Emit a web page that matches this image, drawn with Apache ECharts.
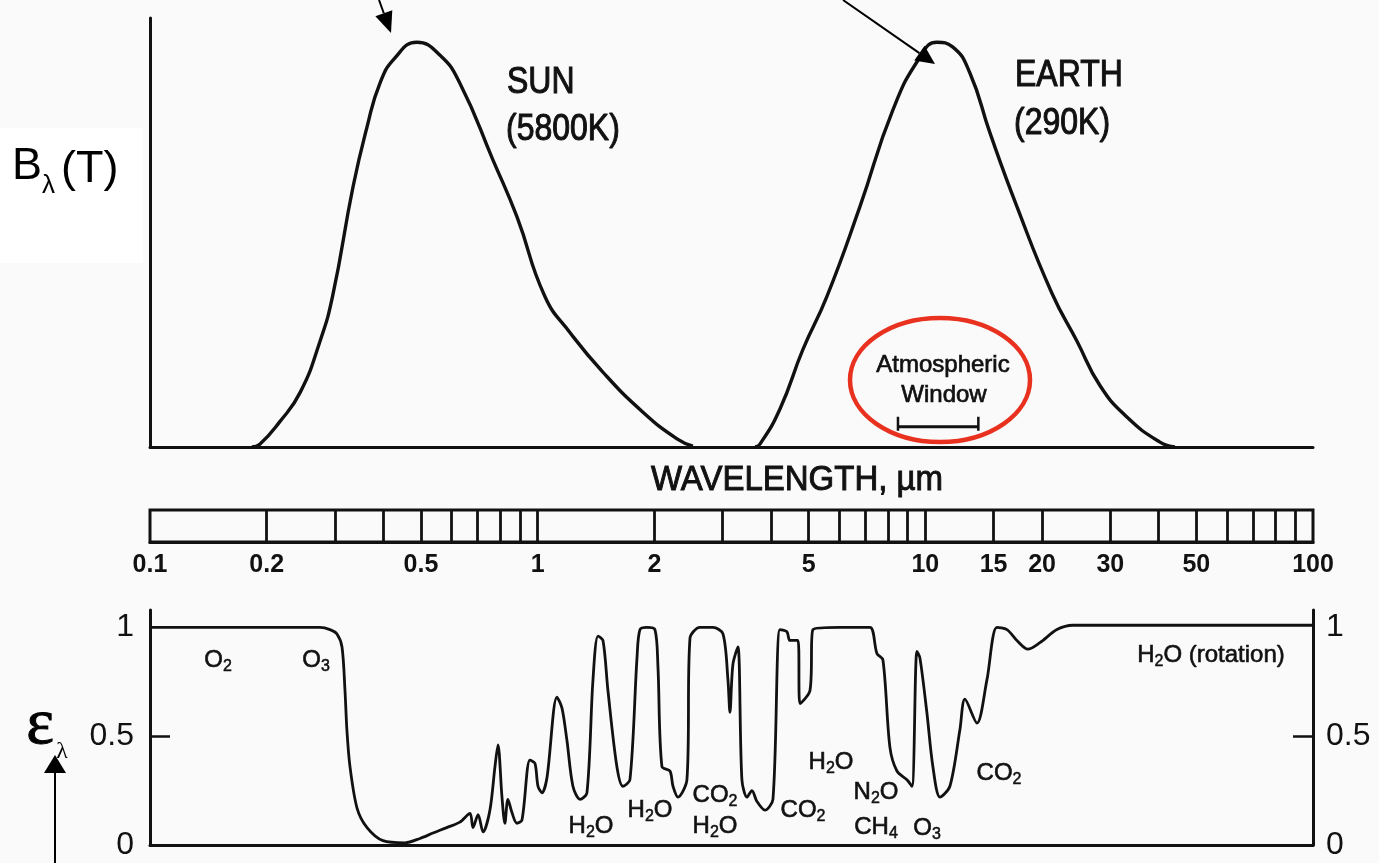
<!DOCTYPE html>
<html>
<head>
<meta charset="utf-8">
<title>Blackbody curves and atmospheric absorption</title>
<script src="https://cdn.jsdelivr.net/npm/echarts@6/dist/echarts.min.js"></script>
<style>
  html, body { margin: 0; padding: 0; background: #fafafa; }
  #chart { width: 1379px; height: 863px; }
</style>
</head>
<body>
<div id="chart"></div>
<script>
// wavelength in micrometres, radiance normalised to the peak
const sunWavelength = [0.183, 0.192, 0.216, 0.244, 0.274, 0.296, 0.334, 0.363, 0.392, 0.428, 0.488,
  0.56, 0.63, 0.767, 0.884, 1.044, 1.211, 1.473, 1.869, 2.288, 2.515];
const sunRadiance = [0, 0.007, 0.062, 0.135, 0.259, 0.374, 0.643, 0.791, 0.899, 0.961, 1.0,
  0.968, 0.899, 0.709, 0.569, 0.372, 0.283, 0.185, 0.086, 0.02, 0.002];

const earthWavelength = [3.636, 3.745, 4.217, 4.834, 5.574, 6.781, 8.249, 9.685, 10.71, 11.78,
  13.03, 14.68, 17.23, 21.21, 24.6, 28.21, 33.11, 40.29, 44.04];
const earthRadiance = [0, 0.007, 0.094, 0.241, 0.372, 0.594, 0.833, 0.963, 1.0, 0.988,
  0.924, 0.776, 0.594, 0.38, 0.262, 0.152, 0.074, 0.012, 0];

// atmospheric absorptivity
const absWavelength = [0.101, 0.2745, 0.2912, 0.3036, 0.3128, 0.3184, 0.322, 0.328, 0.342, 0.363,
  0.399, 0.455, 0.497, 0.537, 0.583, 0.63, 0.669, 0.681, 0.702, 0.723,
  0.753, 0.776, 0.79, 0.809, 0.823, 0.838, 0.858, 0.884, 0.911, 0.955,
  0.984, 1.002, 1.026, 1.057, 1.121, 1.155, 1.19, 1.233, 1.286, 1.34,
  1.389, 1.431, 1.474, 1.518, 1.601, 1.66, 1.73, 1.804, 1.836, 1.914,
  2.007, 2.043, 2.092, 2.194, 2.234, 2.301, 2.427, 2.471, 2.622, 2.833,
  3.006, 3.096, 3.133, 3.189, 3.285, 3.364, 3.466, 3.57, 3.678, 3.857,
  4.045, 4.217, 4.395, 4.475, 4.692, 4.749, 5.04, 5.131, 6.022, 6.391,
  7.196, 7.502, 7.774, 8.102, 8.448, 8.965, 9.236, 9.513, 9.683, 10.09,
  10.46, 10.91, 11.57, 12.28, 12.65, 13.59, 14.42, 15.3, 16.24, 17.23,
  18.39, 19.75, 21.85, 24.03, 100];
const absValue = [1.0, 1.0, 0.99, 0.97, 0.91, 0.71, 0.53, 0.36, 0.17, 0.08,
  0.02, 0.01, 0.03, 0.055, 0.08, 0.105, 0.145, 0.08, 0.14, 0.06,
  0.16, 0.36, 0.46, 0.22, 0.1, 0.21, 0.15, 0.1, 0.115, 0.39,
  0.375, 0.27, 0.24, 0.31, 0.68, 0.63, 0.48, 0.27, 0.21, 0.24,
  0.76, 0.96, 0.94, 0.71, 0.36, 0.27, 0.3, 0.86, 0.99, 1.0,
  0.99, 0.82, 0.36, 0.34, 0.27, 0.22, 0.3, 0.95, 1.0, 1.0,
  0.97, 0.76, 0.61, 0.83, 0.91, 0.3, 0.22, 0.25, 0.2, 0.16,
  0.21, 0.99, 0.98, 0.94, 0.94, 0.65, 0.71, 0.99, 1.0, 1.0,
  1.0, 0.88, 0.85, 0.45, 0.34, 0.3, 0.27, 0.89, 0.86, 0.61,
  0.36, 0.22, 0.27, 0.53, 0.67, 0.56, 0.76, 1.0, 0.99, 0.94,
  0.9, 0.93, 0.99, 1.01, 1.01];

// wavelength scale bar
const scaleTicks = [0.2, 0.3, 0.4, 0.5, 0.6, 0.7, 0.8, 0.9, 1, 2, 3, 4, 5, 6, 7, 8, 9,
  10, 15, 20, 30, 40, 50, 60, 70, 80, 90];
const scaleLabels = [0.1, 0.2, 0.5, 1, 2, 5, 10, 15, 20, 30, 50, 100];
const epsLabels = [0, 0.5, 1];
const windowRange = [8.5, 13.7];

const FONT = '"Liberation Sans", Arial, Helvetica, sans-serif';
const SERIF = '"Liberation Serif", "Times New Roman", serif';
const INK = '#111';
const lg = Math.log10;
const pairs = (xs, ys) => xs.map((x, i) => [lg(x), ys[i]]);

const chart = echarts.init(document.getElementById('chart'));

const bareX = (gridIndex) => ({
  gridIndex, type: 'value', min: -1, max: 2,
  axisLine: { onZero: false, lineStyle: { color: INK, width: 3 } },
  axisTick: { show: false }, axisLabel: { show: false }, splitLine: { show: false }
});

const epsAxis = (position, margin) => ({
  gridIndex: 2, type: 'value', min: 0, max: 1.08, position,
  axisLine: { show: true, onZero: false, lineStyle: { color: INK, width: 3 } },
  axisTick: { show: true, inside: true, length: 20, customValues: [0.5], lineStyle: { color: INK, width: 2.5 } },
  axisLabel: { customValues: epsLabels, margin, fontSize: 32, color: INK, fontFamily: FONT },
  splitLine: { show: false }
});

const curve = (data, width, smooth) => ({
  type: 'line', data, showSymbol: false, silent: true, smooth,
  lineStyle: { color: INK, width }
});

const option = {
  backgroundColor: '#fafafa',
  animation: false,
  grid: [
    { left: 150, right: 66, top: 18, bottom: 416 },
    { left: 150, right: 66, top: 510, height: 32, show: true, borderColor: INK, borderWidth: 3 },
    { left: 150, right: 66, top: 610, bottom: 18 }
  ],
  xAxis: [
    bareX(0),
    {
      gridIndex: 1, type: 'value', min: -1, max: 2,
      axisLine: { onZero: false, lineStyle: { color: INK, width: 3 } },
      axisTick: { inside: true, length: 32, customValues: scaleTicks.map(lg), lineStyle: { color: INK, width: 2.8 } },
      axisLabel: {
        customValues: scaleLabels.map(lg), margin: 11,
        fontSize: 25, fontWeight: 'bold', color: INK, fontFamily: FONT,
        formatter: (v) => {
          const hit = scaleLabels.find((l) => Math.abs(lg(l) - v) < 1e-6);
          return hit === undefined ? '' : String(hit);
        }
      },
      splitLine: { show: false }
    },
    bareX(2)
  ],
  yAxis: [
    {
      gridIndex: 0, type: 'value', min: 0, max: 1.06,
      axisLine: { show: true, onZero: false, lineStyle: { color: INK, width: 3 } },
      axisTick: { show: false }, axisLabel: { show: false }, splitLine: { show: false }
    },
    { gridIndex: 1, type: 'value', min: 0, max: 1, show: false },
    epsAxis('left', 16),
    epsAxis('right', 13)
  ],
  series: [
    Object.assign(curve(pairs(sunWavelength, sunRadiance), 3.4, 0.5), { xAxisIndex: 0, yAxisIndex: 0 }),
    Object.assign(curve(pairs(earthWavelength, earthRadiance), 3.4, 0.5), { xAxisIndex: 0, yAxisIndex: 0 }),
    Object.assign(curve(pairs(absWavelength, absValue), 2.8, 0.3), { xAxisIndex: 2, yAxisIndex: 2 })
  ]
};
chart.setOption(option);

// ---- annotations ----
function text(str, x, y, size, opts = {}) {
  return {
    type: 'text', x, y, scaleY: opts.scaleY || 1, z: 20, silent: true,
    style: {
      text: str, fill: opts.color || INK, align: opts.align || 'left', verticalAlign: 'middle',
      fontSize: size, fontFamily: opts.family || FONT, fontWeight: opts.weight || 'normal',
      stroke: opts.heavy ? (opts.color || INK) : null, lineWidth: opts.heavy || 0
    }
  };
}

// chemical formula with subscript digits
function chem(str, x, y) {
  const parts = str.split(/(\d)/).filter((p) => p !== '');
  const rich = parts.map((p) => (/^\d$/.test(p) ? '{s|' + p + '}' : '{n|' + p + '}')).join('');
  return {
    type: 'text', x, y, z: 20, silent: true,
    style: {
      text: rich, align: 'center', verticalAlign: 'middle',
      rich: {
        n: { fontSize: 24, fontFamily: FONT, fill: INK, stroke: INK, lineWidth: 0.6, lineHeight: 29 },
        s: { fontSize: 16, fontFamily: FONT, fill: INK, stroke: INK, lineWidth: 0.5, lineHeight: 16, verticalAlign: 'bottom' }
      }
    }
  };
}

function arrow(x1, y1, x2, y2, len, half) {
  const dx = x2 - x1, dy = y2 - y1, d = Math.hypot(dx, dy);
  const ux = dx / d, uy = dy / d;
  const bx = x2 - ux * len, by = y2 - uy * len;
  return [
    { type: 'line', z: 20, silent: true, shape: { x1, y1, x2: bx, y2: by }, style: { stroke: '#000', lineWidth: 2 } },
    { type: 'polygon', z: 20, silent: true,
      shape: { points: [[x2, y2], [bx - uy * half, by + ux * half], [bx + uy * half, by - ux * half]] },
      style: { fill: '#000' } }
  ];
}

const w0 = chart.convertToPixel({ gridIndex: 0 }, [lg(windowRange[0]), 0.05]);
const w1 = chart.convertToPixel({ gridIndex: 0 }, [lg(windowRange[1]), 0.05]);

const graphic = [
  { type: 'rect', z: 5, silent: true, shape: { x: 0, y: 128, width: 143, height: 135 }, style: { fill: '#fff' } },
  text('B', 12, 167, 45, { color: '#000' }),
  text('λ', 42, 186, 26, { color: '#000' }),
  text('(T)', 61, 170, 45, { color: '#000' }),

  text('SUN', 507, 83, 32, { scaleY: 1.15, heavy: 0.9 }),
  text('(5800K)', 506, 130, 32, { scaleY: 1.15, heavy: 0.9 }),
  text('EARTH', 1015, 76, 32, { scaleY: 1.15, heavy: 0.9 }),
  text('(290K)', 1014, 124, 32, { scaleY: 1.15, heavy: 0.9 }),
  text('Atmospheric', 943, 365, 24, { align: 'center', heavy: 0.7 }),
  text('Window', 944, 395, 24, { align: 'center', heavy: 0.7 }),
  { type: 'line', z: 20, silent: true, shape: { x1: w0[0], y1: w0[1], x2: w1[0], y2: w1[1] }, style: { stroke: INK, lineWidth: 3 } },
  { type: 'line', z: 20, silent: true, shape: { x1: w0[0], y1: w0[1] - 10, x2: w0[0], y2: w0[1] + 4 }, style: { stroke: INK, lineWidth: 2.5 } },
  { type: 'line', z: 20, silent: true, shape: { x1: w1[0], y1: w1[1] - 10, x2: w1[0], y2: w1[1] + 4 }, style: { stroke: INK, lineWidth: 2.5 } },
  { type: 'ellipse', z: 21, silent: true, shape: { cx: 940, cy: 380, rx: 90, ry: 62 }, style: { fill: null, stroke: '#e8321f', lineWidth: 4.5 } },

  text('WAVELENGTH, µm', 797, 480, 33, { align: 'center', scaleY: 1.07, heavy: 0.9 }),

  chem('O2', 218, 660), chem('O3', 316, 660),
  chem('H2O', 591, 826), chem('H2O', 650, 810),
  chem('CO2', 715, 795), chem('H2O', 715, 826),
  chem('CO2', 803, 810), chem('H2O', 831, 762),
  chem('N2O', 876, 792), chem('CH4', 876, 827),
  chem('O3', 927, 828), chem('CO2', 999, 773),
  chem('H2O (rotation)', 1211, 655),

  text('ε', 40, 726, 66, { align: 'center', family: SERIF, color: '#000', heavy: 1 }),
  text('λ', 62, 752, 24, { align: 'center', family: SERIF, color: '#000' })
]
  .concat(arrow(379, 0, 391, 33, 21, 9))
  .concat(arrow(843, 0, 935, 64, 19, 9))
  .concat(arrow(55, 863, 55, 755, 18, 11));

chart.setOption({ graphic });
</script>
</body>
</html>
